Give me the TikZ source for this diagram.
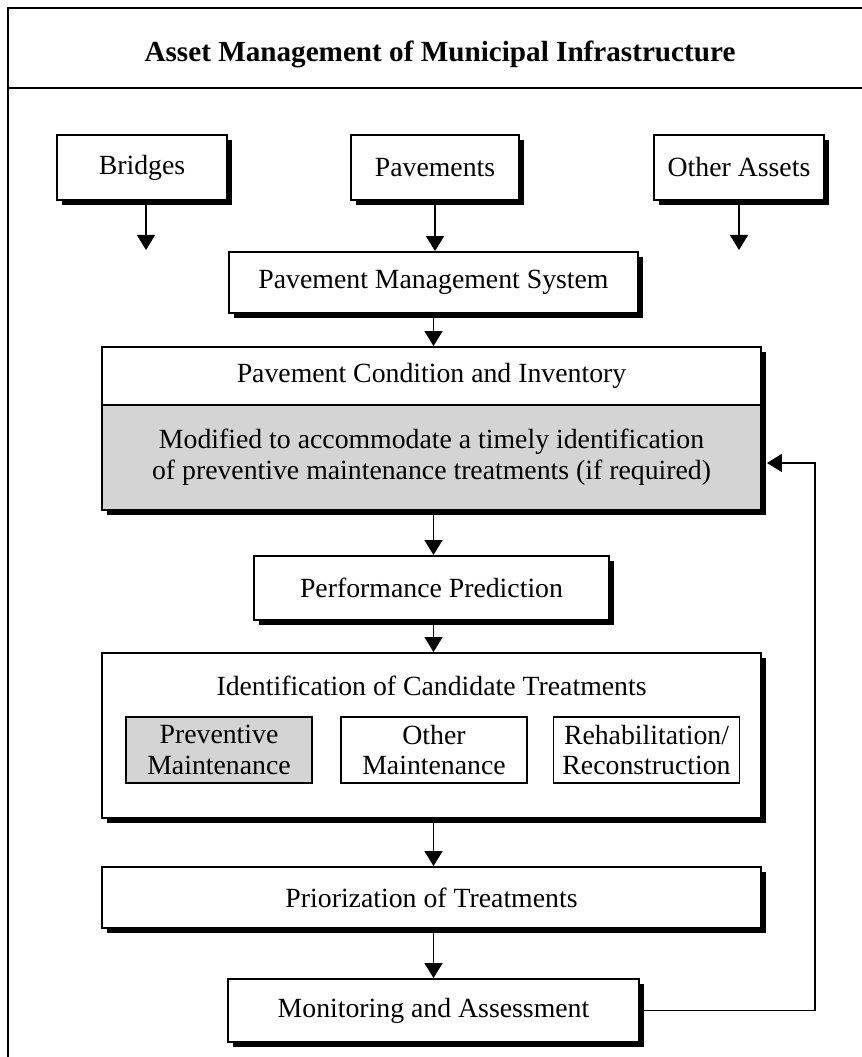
\documentclass[tikz,border=0pt]{standalone}
\usepackage{fontspec}
\setmainfont{Liberation Serif}
\usetikzlibrary{arrows.meta,shadows}
\definecolor{boxgray}{RGB}{212,212,212}

\begin{document}
\begin{tikzpicture}[>={Triangle[length=.3cm,width=.36cm]},
	txt/.style={font=\fontsize{15.8}{17.5}\selectfont,align=center},
	box/.style={txt,draw,line width=1.1pt,fill=white,inner sep=0pt,
		drop shadow={shadow xshift=.1cm,shadow yshift=-.1cm,fill=black,opacity=1}},
	subbox/.style={txt,draw,line width=.8pt,inner sep=0pt,minimum width=3.72cm,minimum height=1.32cm},
	flow/.style={->,line width=.8pt}]
	\useasboundingbox (0,0) rectangle (17.22,-21.14);

	% frame and title
	\begin{scope}[line width=1.6pt]
		\draw (0.16,-21.2) -- (0.16,-0.16) -- (17.3,-0.16);
		\draw (0.16,-1.76) -- (17.3,-1.76);
	\end{scope}
	\node[font=\fontsize{16.6}{19}\selectfont\bfseries] (title) at (8.8,-1.08) {Asset Management of Municipal Infrastructure};

	% assets
	\node[box,minimum width=3.4cm,minimum height=1.3cm] (bridges) at (2.84,-3.35) {Bridges};
	\node[box,minimum width=3.36cm,minimum height=1.3cm] (pavements) at (8.70,-3.35) {Pavements};
	\node[box,minimum width=3.4cm,minimum height=1.3cm] (others) at (14.78,-3.35) {Other Assets};
	\coordinate (bridgesend) at (2.92,-5.0);
	\coordinate (othersend) at (14.78,-5.0);

	% pavement management system
	\node[box,minimum width=8.18cm,minimum height=1.22cm] (pms) at (8.67,-5.65) {Pavement Management System};
	\node[box,minimum width=13.18cm,minimum height=1.16cm] (pci) at (8.63,-7.52) {Pavement Condition and Inventory};
	\node[box,fill=boxgray,minimum width=13.18cm,minimum height=2.1cm] (pcimod) at (8.63,-9.15)
		{Modified to accommodate a timely identification\\of preventive maintenance treatments (if required)};
	\node[box,minimum width=7.1cm,minimum height=1.28cm] (pp) at (8.63,-11.76) {Performance Prediction};

	% candidate treatments
	\node[box,minimum width=13.18cm,minimum height=3.3cm] (ict) at (8.63,-14.71) {};
	\node[txt] (icttitle) at (8.63,-13.72) {Identification of Candidate Treatments};
	\node[subbox,fill=boxgray] (prev) at (4.38,-15.0) {Preventive\\Maintenance};
	\node[subbox] (othermaint) at (8.68,-15.0) {Other\\Maintenance};
	\node[subbox] (rehab) at (12.93,-15.0) {Rehabilitation/\\Reconstruction};

	\node[box,minimum width=13.18cm,minimum height=1.22cm] (prior) at (8.63,-17.95) {Priorization of Treatments};
	\node[box,minimum width=8.22cm,minimum height=1.26cm] (mon) at (8.67,-20.21) {Monitoring and Assessment};

	% connectors
	\draw[flow] (bridges.south -| bridgesend) -- (bridgesend);
	\draw[flow] (others.south) -- (othersend);
	\draw[flow] (pavements.south) -- (pms.north -| pavements.south);
	\draw[flow] (pms.south) -- (pci.north -| pms.south);
	\draw[flow] (pcimod.south -| pms.south) -- (pp.north -| pms.south);
	\draw[flow] (pp.south -| pms.south) -- (ict.north -| pms.south);
	\draw[flow] (ict.south -| pms.south) -- (prior.north -| pms.south);
	\draw[flow] (prior.south -| pms.south) -- (mon.north -| pms.south);
	\coordinate (loop) at (16.3,-9.26);
	\draw[flow,line width=1pt] (mon.east) -| (loop) -- ([xshift=.1cm]pcimod.east |- loop);
\end{tikzpicture}
\end{document}
